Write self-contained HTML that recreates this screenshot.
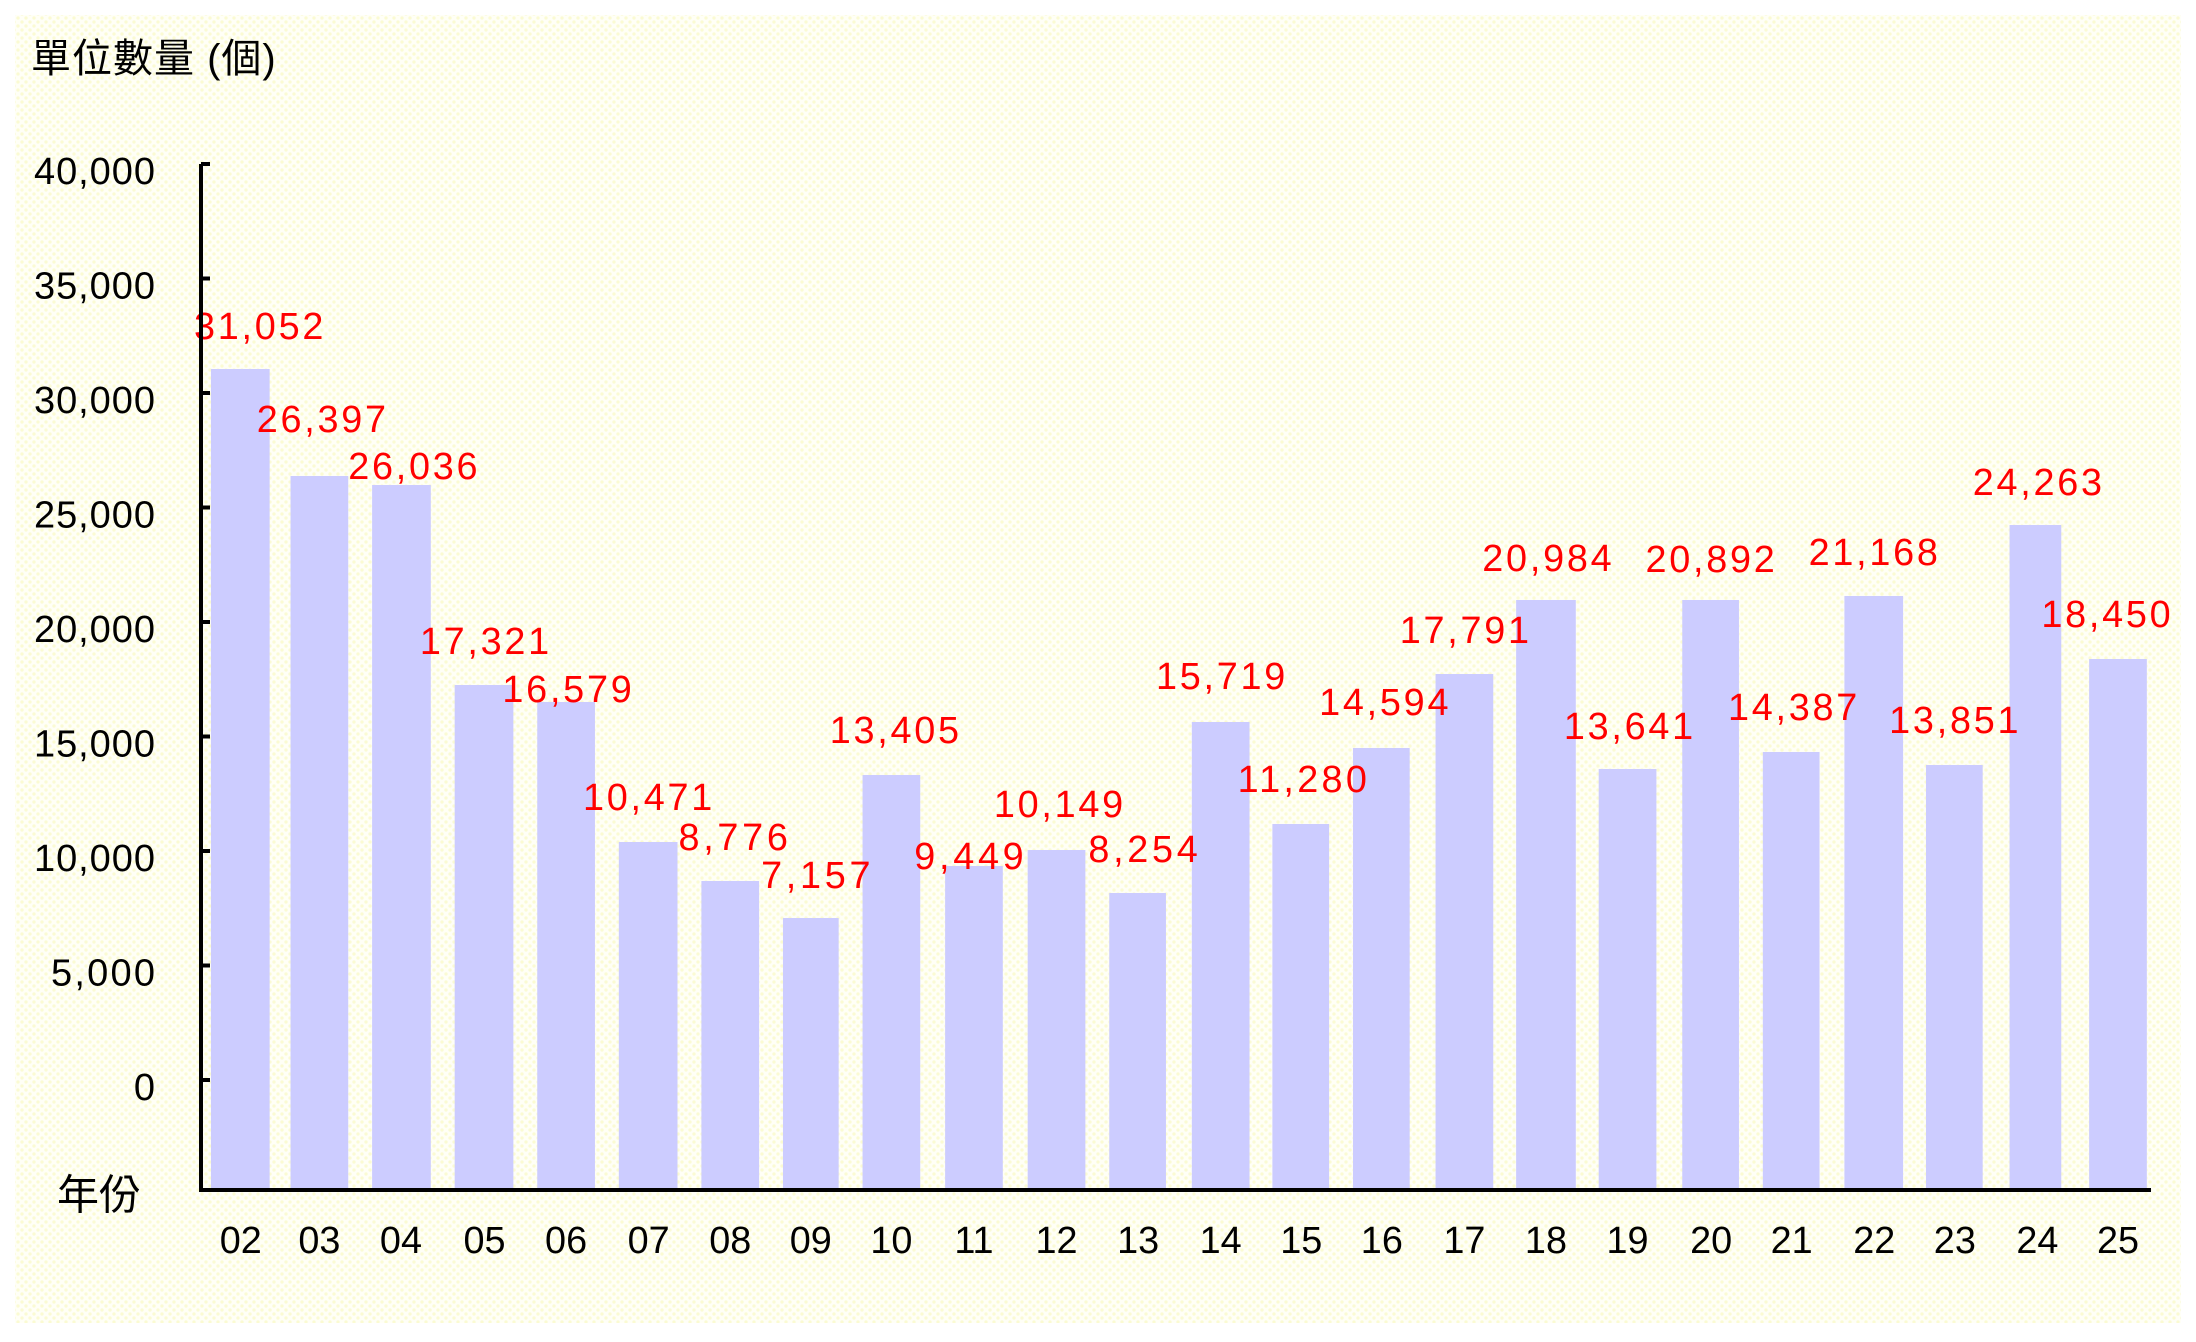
<!DOCTYPE html>
<html><head><meta charset="utf-8"><style>
html,body{margin:0;padding:0;background:#fff;}
svg{display:block;}
text{font-family:"Liberation Sans","Noto Sans CJK TC",sans-serif;}
</style></head><body>
<svg width="2196" height="1342" viewBox="0 0 2196 1342" xmlns="http://www.w3.org/2000/svg">
<defs>
<pattern id="dots" width="8" height="8" patternUnits="userSpaceOnUse">
<rect width="8" height="8" fill="#fffff6"/>
<circle cx="2" cy="2" r="1.6" fill="#fbfbd2"/>
<circle cx="6" cy="6" r="1.6" fill="#fbfbd2"/>
</pattern>
</defs>
<rect x="15" y="15" width="2166" height="1308" fill="url(#dots)"/>
<text x="31" y="72" font-size="40" fill="#000" letter-spacing="1">單位數量 (個)</text>
<g transform="matrix(0.9948 0 0 1 1.045 0)">
<g fill="#ccccff">
<rect x="211" y="369" width="59" height="819"/>
<rect x="291" y="476" width="58" height="712"/>
<rect x="373" y="485" width="59" height="703"/>
<rect x="456" y="685" width="59" height="503"/>
<rect x="539" y="702" width="58" height="486"/>
<rect x="621" y="842" width="59" height="346"/>
<rect x="704" y="881" width="58" height="307"/>
<rect x="786" y="918" width="56" height="270"/>
<rect x="866" y="775" width="58" height="413"/>
<rect x="949" y="866" width="58" height="322"/>
<rect x="1032" y="850" width="58" height="338"/>
<rect x="1114" y="893" width="57" height="295"/>
<rect x="1197" y="722" width="58" height="466"/>
<rect x="1278" y="824" width="57" height="364"/>
<rect x="1359" y="748" width="57" height="440"/>
<rect x="1442" y="674" width="58" height="514"/>
<rect x="1523" y="600" width="60" height="588"/>
<rect x="1606" y="769" width="58" height="419"/>
<rect x="1690" y="600" width="57" height="588"/>
<rect x="1771" y="752" width="57" height="436"/>
<rect x="1853" y="596" width="59" height="592"/>
<rect x="1935" y="765" width="57" height="423"/>
<rect x="2019" y="525" width="52" height="663"/>
<rect x="2099" y="659" width="58" height="529"/>
</g>
<g font-size="38" fill="#000" text-anchor="middle" dominant-baseline="central">
<text x="241" y="1241">02</text><text x="320" y="1241">03</text><text x="402" y="1241">04</text><text x="486" y="1241">05</text>
<text x="568" y="1241">06</text><text x="651" y="1241">07</text><text x="733" y="1241">08</text><text x="814" y="1241">09</text>
<text x="895" y="1241">10</text><text x="978" y="1241">11</text><text x="1061" y="1241">12</text><text x="1143" y="1241">13</text>
<text x="1226" y="1241">14</text><text x="1307" y="1241">15</text><text x="1388" y="1241">16</text><text x="1471" y="1241">17</text>
<text x="1553" y="1241">18</text><text x="1635" y="1241">19</text><text x="1719" y="1241">20</text><text x="1800" y="1241">21</text>
<text x="1883" y="1241">22</text><text x="1964" y="1241">23</text><text x="2047" y="1241">24</text><text x="2128" y="1241">25</text>
</g>
<g font-size="38" fill="#ff0000" text-anchor="middle" dominant-baseline="central">
<text x="259" y="327" textLength="130">31,052</text>
<text x="322" y="420" textLength="130">26,397</text>
<text x="414" y="467" textLength="130">26,036</text>
<text x="486" y="642" textLength="130">17,321</text>
<text x="569" y="690" textLength="130">16,579</text>
<text x="650" y="798" textLength="130">10,471</text>
<text x="736" y="838" textLength="110">8,776</text>
<text x="819" y="876" textLength="110">7,157</text>
<text x="898" y="731" textLength="130">13,405</text>
<text x="973" y="857" textLength="110">9,449</text>
<text x="1063" y="805" textLength="130">10,149</text>
<text x="1148" y="850" textLength="110">8,254</text>
<text x="1226" y="677" textLength="130">15,719</text>
<text x="1308" y="780" textLength="130">11,280</text>
<text x="1390" y="703" textLength="130">14,594</text>
<text x="1471" y="631" textLength="130">17,791</text>
<text x="1554" y="559" textLength="130">20,984</text>
<text x="1636" y="727" textLength="130">13,641</text>
<text x="1718" y="560" textLength="130">20,892</text>
<text x="1801" y="708" textLength="130">14,387</text>
<text x="1882" y="553" textLength="130">21,168</text>
<text x="1963" y="721" textLength="130">13,851</text>
<text x="2047" y="483" textLength="130">24,263</text>
<text x="2116" y="615" textLength="130">18,450</text>
</g>
</g>
<g stroke="#000" stroke-width="4" fill="none">
<line x1="201" y1="164" x2="201" y2="1192"/>
<line x1="199" y1="1190" x2="2151" y2="1190"/>
<line x1="201" y1="164" x2="210" y2="164"/>
<line x1="201" y1="278.5" x2="210" y2="278.5"/>
<line x1="201" y1="393" x2="210" y2="393"/>
<line x1="201" y1="507.5" x2="210" y2="507.5"/>
<line x1="201" y1="622" x2="210" y2="622"/>
<line x1="201" y1="736.5" x2="210" y2="736.5"/>
<line x1="201" y1="851" x2="210" y2="851"/>
<line x1="201" y1="965.5" x2="210" y2="965.5"/>
<line x1="201" y1="1080" x2="210" y2="1080"/>
</g>
<g font-size="38" fill="#000" text-anchor="end" dominant-baseline="central">
<text x="155" y="172" textLength="121">40,000</text>
<text x="155" y="286.5" textLength="121">35,000</text>
<text x="155" y="401" textLength="121">30,000</text>
<text x="155" y="515.5" textLength="121">25,000</text>
<text x="155" y="630" textLength="121">20,000</text>
<text x="155" y="744.5" textLength="121">15,000</text>
<text x="155" y="859" textLength="121">10,000</text>
<text x="155" y="973.5" textLength="104">5,000</text>
<text x="155" y="1088">0</text>
</g>
<text x="99" y="1195" font-size="42" fill="#000" text-anchor="middle" dominant-baseline="central">年份</text>
</svg>
</body></html>
